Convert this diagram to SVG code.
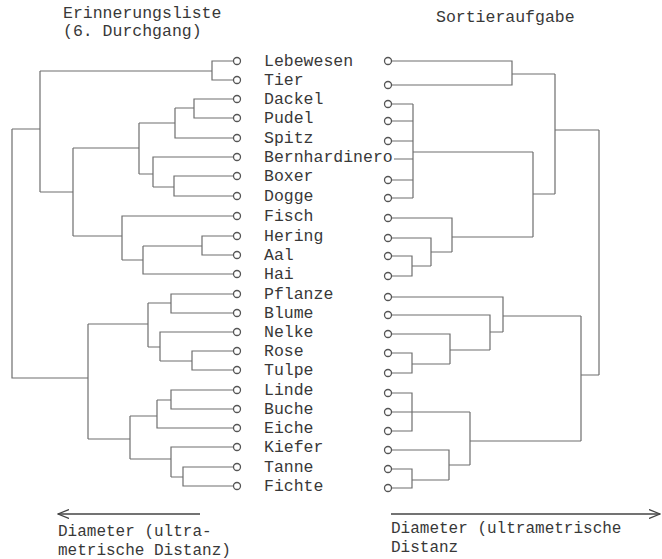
<svg xmlns="http://www.w3.org/2000/svg" width="662" height="559" viewBox="0 0 662 559">
<style>
  text { font-family: "Liberation Mono", "Courier New", monospace; font-size: 16.5px; fill: #383838; }
  .cap { font-size: 16px; }
  .dot { fill: #ffffff; stroke: #555555; stroke-width: 1.3; }
  .con { fill: none; stroke: #6e6e6e; stroke-width: 1.2; }
  .axis { fill: none; stroke: #444444; stroke-width: 1.4; }
</style>
<defs>
  <marker id="arr" viewBox="0 0 12 10" refX="11" refY="5" markerWidth="12" markerHeight="10" markerUnits="userSpaceOnUse" orient="auto">
    <path d="M0 0.5 L11 5 L0 9.5" fill="none" stroke="#444444" stroke-width="1.3"/>
  </marker>
</defs>
<rect width="662" height="559" fill="#ffffff"/>

<g id="titles">
  <text x="63" y="18">Erinnerungsliste</text>
  <text x="63" y="36">(6. Durchgang)</text>
  <text x="436" y="22">Sortieraufgabe</text>
</g>

<g id="connectors">
  <!-- left dendrogram -->
  <path class="con" d="M233.5 61 H212 V80 H233.5 M212 71 H40"/>
  <path class="con" d="M233.5 99 H194 V118 H233.5 M194 108 H175"/>
  <path class="con" d="M233.5 138 H175 V108 M175 123 H139"/>
  <path class="con" d="M233.5 176 H174 V196 H233.5 M174 187 H153"/>
  <path class="con" d="M233.5 157 H153 V187 M153 174 H139"/>
  <path class="con" d="M139 123 V174 M139 148 H73"/>
  <path class="con" d="M233.5 236 H202 V255 H233.5 M202 246 H143"/>
  <path class="con" d="M233.5 274 H143 V246 M143 260 H122"/>
  <path class="con" d="M233.5 216 H122 V260 M122 236 H73"/>
  <path class="con" d="M73 148 V236 M73 192 H40"/>
  <path class="con" d="M40 71 V192 M40 129 H12"/>
  <path class="con" d="M12 129 V378 H88"/>
  <path class="con" d="M233.5 294 H171 V313 H233.5 M171 303 H148"/>
  <path class="con" d="M233.5 351 H192 V370 H233.5 M192 361 H160"/>
  <path class="con" d="M233.5 332 H160 V361 M160 347 H148"/>
  <path class="con" d="M148 303 V347 M148 324 H88"/>
  <path class="con" d="M233.5 390 H171 V409 H233.5 M171 400 H157"/>
  <path class="con" d="M233.5 428 H157 V400 M157 416 H130"/>
  <path class="con" d="M233.5 467 H183 V486 H233.5 M183 477 H171"/>
  <path class="con" d="M233.5 447 H171 V477 M171 459 H130"/>
  <path class="con" d="M130 416 V459 M130 439 H88"/>
  <path class="con" d="M88 324 V439"/>
  <!-- right dendrogram -->
  <path class="con" d="M391.5 61 H512 V85 H391.5 M512 74 H555"/>
  <path class="con" d="M391.5 104 H413 M391.5 121 H413 M391.5 141 H413 M394 159 H413 M391.5 180 H413 M391.5 198 H413 M413 104 V198 M413 152 H533"/>
  <path class="con" d="M391.5 256 H412 V276 H391.5 M412 266 H431"/>
  <path class="con" d="M391.5 238 H431 V266 M431 252 H452"/>
  <path class="con" d="M391.5 218 H452 V252 M452 237 H533"/>
  <path class="con" d="M533 152 V237 M533 194 H555"/>
  <path class="con" d="M555 74 V194 M555 130 H599"/>
  <path class="con" d="M391.5 353 H412 V373 H391.5 M412 364 H450"/>
  <path class="con" d="M391.5 334 H450 V364 M450 350 H490"/>
  <path class="con" d="M391.5 315 H490 V350 M490 332 H503"/>
  <path class="con" d="M391.5 297 H503 V332 M503 316 H581"/>
  <path class="con" d="M391.5 393 H412 V431 H391.5 M391.5 412 H470"/>
  <path class="con" d="M391.5 469 H412 V488 H391.5 M412 480 H449"/>
  <path class="con" d="M391.5 450 H449 V480 M449 465 H470"/>
  <path class="con" d="M470 412 V465 M470 441 H581"/>
  <path class="con" d="M581 316 V441 M581 375 H599"/>
  <path class="con" d="M599 130 V375"/>
</g>

<g id="n-lebewesen"><circle class="dot" cx="237" cy="61" r="3.5"/><text x="264" y="65.5">Lebewesen</text><circle class="dot" cx="388" cy="61" r="3.5"/></g>
<g id="n-tier"><circle class="dot" cx="237" cy="80" r="3.5"/><text x="264" y="84.5">Tier</text><circle class="dot" cx="388" cy="85" r="3.5"/></g>
<g id="n-dackel"><circle class="dot" cx="237" cy="99" r="3.5"/><text x="264" y="103.5">Dackel</text><circle class="dot" cx="388" cy="104" r="3.5"/></g>
<g id="n-pudel"><circle class="dot" cx="237" cy="118" r="3.5"/><text x="264" y="122.5">Pudel</text><circle class="dot" cx="388" cy="121" r="3.5"/></g>
<g id="n-spitz"><circle class="dot" cx="237" cy="138" r="3.5"/><text x="264" y="142.5">Spitz</text><circle class="dot" cx="388" cy="141" r="3.5"/></g>
<g id="n-bernhardinero"><circle class="dot" cx="237" cy="157" r="3.5"/><text x="264" y="161.5">Bernhardinero</text></g>
<g id="n-boxer"><circle class="dot" cx="237" cy="176" r="3.5"/><text x="264" y="180.5">Boxer</text><circle class="dot" cx="388" cy="180" r="3.5"/></g>
<g id="n-dogge"><circle class="dot" cx="237" cy="196" r="3.5"/><text x="264" y="200.5">Dogge</text><circle class="dot" cx="388" cy="198" r="3.5"/></g>
<g id="n-fisch"><circle class="dot" cx="237" cy="216" r="3.5"/><text x="264" y="220.5">Fisch</text><circle class="dot" cx="388" cy="218" r="3.5"/></g>
<g id="n-hering"><circle class="dot" cx="237" cy="236" r="3.5"/><text x="264" y="240.5">Hering</text><circle class="dot" cx="388" cy="238" r="3.5"/></g>
<g id="n-aal"><circle class="dot" cx="237" cy="255" r="3.5"/><text x="264" y="259.5">Aal</text><circle class="dot" cx="388" cy="256" r="3.5"/></g>
<g id="n-hai"><circle class="dot" cx="237" cy="274" r="3.5"/><text x="264" y="278.5">Hai</text><circle class="dot" cx="388" cy="276" r="3.5"/></g>
<g id="n-pflanze"><circle class="dot" cx="237" cy="294" r="3.5"/><text x="264" y="298.5">Pflanze</text><circle class="dot" cx="388" cy="297" r="3.5"/></g>
<g id="n-blume"><circle class="dot" cx="237" cy="313" r="3.5"/><text x="264" y="317.5">Blume</text><circle class="dot" cx="388" cy="315" r="3.5"/></g>
<g id="n-nelke"><circle class="dot" cx="237" cy="332" r="3.5"/><text x="264" y="336.5">Nelke</text><circle class="dot" cx="388" cy="334" r="3.5"/></g>
<g id="n-rose"><circle class="dot" cx="237" cy="351" r="3.5"/><text x="264" y="355.5">Rose</text><circle class="dot" cx="388" cy="353" r="3.5"/></g>
<g id="n-tulpe"><circle class="dot" cx="237" cy="370" r="3.5"/><text x="264" y="374.5">Tulpe</text><circle class="dot" cx="388" cy="373" r="3.5"/></g>
<g id="n-linde"><circle class="dot" cx="237" cy="390" r="3.5"/><text x="264" y="394.5">Linde</text><circle class="dot" cx="388" cy="393" r="3.5"/></g>
<g id="n-buche"><circle class="dot" cx="237" cy="409" r="3.5"/><text x="264" y="413.5">Buche</text><circle class="dot" cx="388" cy="412" r="3.5"/></g>
<g id="n-eiche"><circle class="dot" cx="237" cy="428" r="3.5"/><text x="264" y="432.5">Eiche</text><circle class="dot" cx="388" cy="431" r="3.5"/></g>
<g id="n-kiefer"><circle class="dot" cx="237" cy="447" r="3.5"/><text x="264" y="451.5">Kiefer</text><circle class="dot" cx="388" cy="450" r="3.5"/></g>
<g id="n-tanne"><circle class="dot" cx="237" cy="467" r="3.5"/><text x="264" y="471.5">Tanne</text><circle class="dot" cx="388" cy="469" r="3.5"/></g>
<g id="n-fichte"><circle class="dot" cx="237" cy="486" r="3.5"/><text x="264" y="490.5">Fichte</text><circle class="dot" cx="388" cy="488" r="3.5"/></g>

<g id="axis-left">
  <line class="axis" x1="200" y1="514" x2="58" y2="514" marker-end="url(#arr)"/>
  <text class="cap" x="58" y="535.5">Diameter (ultra-</text>
  <text class="cap" x="58" y="554.5">metrische Distanz)</text>
</g>
<g id="axis-right">
  <line class="axis" x1="391" y1="514" x2="660" y2="514" marker-end="url(#arr)"/>
  <text class="cap" x="391" y="533">Diameter (ultrametrische</text>
  <text class="cap" x="391" y="552">Distanz</text>
</g>
</svg>
